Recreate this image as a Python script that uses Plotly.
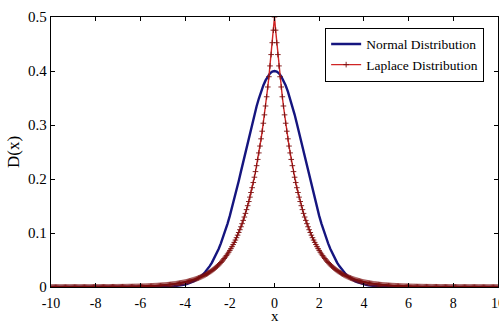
import numpy as np
import plotly.graph_objects as go

# ---- data ----
# Laplace curve, sampled every 0.05 from x=-10 to x=10
laplace_left = [  # x = -10.00 ... -0.05
    0, 0, 0, 0, 0, 0, 0, 0, 0, 0,
    0, 0, 0, 0, 0, 0, 0.0001, 0.0001, 0.0001, 0.0001,
    0.0001, 0.0001, 0.0001, 0.0001, 0.0001, 0.0001, 0.0001, 0.0001, 0.0001, 0.0001,
    0.0001, 0.0001, 0.0001, 0.0001, 0.0001, 0.0001, 0.0001, 0.0001, 0.0002, 0.0002,
    0.0002, 0.0002, 0.0002, 0.0002, 0.0002, 0.0002, 0.0002, 0.0002, 0.0003, 0.0003,
    0.0003, 0.0003, 0.0003, 0.0003, 0.0003, 0.0004, 0.0004, 0.0004, 0.0004, 0.0004,
    0.0005, 0.0005, 0.0005, 0.0005, 0.0006, 0.0006, 0.0006, 0.0006, 0.0007, 0.0007,
    0.0008, 0.0008, 0.0008, 0.0009, 0.0009, 0.0010, 0.0010, 0.0011, 0.0011, 0.0012,
    0.0012, 0.0013, 0.0014, 0.0014, 0.0015, 0.0016, 0.0017, 0.0018, 0.0018, 0.0019,
    0.0020, 0.0021, 0.0023, 0.0024, 0.0025, 0.0026, 0.0028, 0.0029, 0.0030, 0.0032,
    0.0034, 0.0035, 0.0037, 0.0039, 0.0041, 0.0043, 0.0045, 0.0048, 0.0050, 0.0053,
    0.0056, 0.0058, 0.0061, 0.0065, 0.0068, 0.0071, 0.0075, 0.0079, 0.0083, 0.0087,
    0.0092, 0.0096, 0.0101, 0.0106, 0.0112, 0.0118, 0.0124, 0.0130, 0.0137, 0.0144,
    0.0151, 0.0159, 0.0167, 0.0175, 0.0184, 0.0194, 0.0204, 0.0214, 0.0225, 0.0237,
    0.0249, 0.0262, 0.0275, 0.0289, 0.0304, 0.0320, 0.0336, 0.0353, 0.0371, 0.0390,
    0.0410, 0.0431, 0.0454, 0.0477, 0.0501, 0.0527, 0.0554, 0.0582, 0.0612, 0.0644,
    0.0677, 0.0711, 0.0748, 0.0786, 0.0826, 0.0869, 0.0913, 0.0960, 0.1009, 0.1061,
    0.1116, 0.1173, 0.1233, 0.1296, 0.1363, 0.1433, 0.1506, 0.1583, 0.1664, 0.1750,
    0.1839, 0.1934, 0.2033, 0.2137, 0.2247, 0.2362, 0.2483, 0.2610, 0.2744, 0.2885,
    0.3033, 0.3188, 0.3352, 0.3523, 0.3704, 0.3894, 0.4094, 0.4304, 0.4524, 0.4756,
]
laplace_right = [  # x = 0.00 ... 10.00
    0.5000, 0.4756, 0.4524, 0.4304, 0.4094, 0.3894, 0.3704, 0.3523, 0.3352, 0.3188,
    0.3033, 0.2885, 0.2744, 0.2610, 0.2483, 0.2362, 0.2247, 0.2137, 0.2033, 0.1934,
    0.1839, 0.1750, 0.1664, 0.1583, 0.1506, 0.1433, 0.1363, 0.1296, 0.1233, 0.1173,
    0.1116, 0.1061, 0.1009, 0.0960, 0.0913, 0.0869, 0.0826, 0.0786, 0.0748, 0.0711,
    0.0677, 0.0644, 0.0612, 0.0582, 0.0554, 0.0527, 0.0501, 0.0477, 0.0454, 0.0431,
    0.0410, 0.0390, 0.0371, 0.0353, 0.0336, 0.0320, 0.0304, 0.0289, 0.0275, 0.0262,
    0.0249, 0.0237, 0.0225, 0.0214, 0.0204, 0.0194, 0.0184, 0.0175, 0.0167, 0.0159,
    0.0151, 0.0144, 0.0137, 0.0130, 0.0124, 0.0118, 0.0112, 0.0106, 0.0101, 0.0096,
    0.0092, 0.0087, 0.0083, 0.0079, 0.0075, 0.0071, 0.0068, 0.0065, 0.0061, 0.0058,
    0.0056, 0.0053, 0.0050, 0.0048, 0.0045, 0.0043, 0.0041, 0.0039, 0.0037, 0.0035,
    0.0034, 0.0032, 0.0030, 0.0029, 0.0028, 0.0026, 0.0025, 0.0024, 0.0023, 0.0021,
    0.0020, 0.0019, 0.0018, 0.0018, 0.0017, 0.0016, 0.0015, 0.0014, 0.0014, 0.0013,
    0.0012, 0.0012, 0.0011, 0.0011, 0.0010, 0.0010, 0.0009, 0.0009, 0.0008, 0.0008,
    0.0008, 0.0007, 0.0007, 0.0006, 0.0006, 0.0006, 0.0006, 0.0005, 0.0005, 0.0005,
    0.0005, 0.0004, 0.0004, 0.0004, 0.0004, 0.0004, 0.0003, 0.0003, 0.0003, 0.0003,
    0.0003, 0.0003, 0.0003, 0.0002, 0.0002, 0.0002, 0.0002, 0.0002, 0.0002, 0.0002,
    0.0002, 0.0002, 0.0002, 0.0001, 0.0001, 0.0001, 0.0001, 0.0001, 0.0001, 0.0001,
    0.0001, 0.0001, 0.0001, 0.0001, 0.0001, 0.0001, 0.0001, 0.0001, 0.0001, 0.0001,
    0.0001, 0.0001, 0.0001, 0.0001, 0.0001, 0, 0, 0, 0, 0,
    0, 0, 0, 0, 0, 0, 0, 0, 0, 0,
    0,
]

# Normal curve, sampled every 0.1 from x=-10 to x=10
normal_left = [  # x = -10.0 ... -0.1
    0, 0, 0, 0, 0, 0, 0, 0, 0, 0,
    0, 0, 0, 0, 0, 0, 0, 0, 0, 0,
    0, 0, 0, 0, 0, 0, 0, 0, 0, 0,
    0, 0, 0, 0, 0, 0, 0, 0, 0, 0,
    0,
    0, 0, 0, 0.0001, 0.0001, 0.0001, 0.0002, 0.0002, 0.0003, 0.0004,
    0.0005, 0.0007, 0.0009, 0.0011, 0.0014, 0.0018, 0.0024, 0.0030, 0.0038, 0.0047,
    0.0058, 0.0073, 0.0089, 0.0109, 0.0133, 0.0161, 0.0194, 0.0232, 0.0277, 0.0328,
    0.0387, 0.0453, 0.0528, 0.0612, 0.0705, 0.0808, 0.0920, 0.1043, 0.1175, 0.1317,
    0.1467, 0.1626, 0.1792, 0.1964, 0.2141, 0.2321, 0.2502, 0.2681, 0.2858, 0.3029,
    0.3193, 0.3348, 0.3491, 0.3619, 0.3732, 0.3826, 0.3901, 0.3956, 0.3989,
]
normal_right = [  # x = 0.0 ... 10.0
    0.4000, 0.3989, 0.3956, 0.3901, 0.3826, 0.3732, 0.3619, 0.3491, 0.3348, 0.3193,
    0.3029, 0.2858, 0.2681, 0.2502, 0.2321, 0.2141, 0.1964, 0.1792, 0.1626, 0.1467,
    0.1317, 0.1175, 0.1043, 0.0920, 0.0808, 0.0705, 0.0612, 0.0528, 0.0453, 0.0387,
    0.0328, 0.0277, 0.0232, 0.0194, 0.0161, 0.0133, 0.0109, 0.0089, 0.0073, 0.0058,
    0.0047, 0.0038, 0.0030, 0.0024, 0.0018, 0.0014, 0.0011, 0.0009, 0.0007, 0.0005,
    0.0004, 0.0003, 0.0002, 0.0002, 0.0001, 0.0001, 0.0001, 0, 0, 0,
    0, 0, 0, 0, 0, 0, 0, 0, 0, 0,
    0, 0, 0, 0, 0, 0, 0, 0, 0, 0,
    0, 0, 0, 0, 0, 0, 0, 0, 0, 0,
    0, 0, 0, 0, 0, 0, 0, 0, 0, 0,
    0,
]

x_tick_vals = [-10, -8, -6, -4, -2, 0, 2, 4, 6, 8, 10]
y_tick_vals = [0, 0.1, 0.2, 0.3, 0.4, 0.5]
y_tick_text = ["0", "0.1", "0.2", "0.3", "0.4", "0.5"]

laplace_y = laplace_left + laplace_right
normal_y = normal_left + normal_right
laplace_x = np.linspace(-10, 10, len(laplace_y))
normal_x = np.linspace(-10, 10, len(normal_y))

FONT = "Liberation Serif, Times New Roman, serif"

fig = go.Figure()
fig.add_trace(go.Scatter(
    x=normal_x, y=normal_y, mode="lines", name="Normal Distribution",
    line=dict(color="#15157f", width=2.4),
))
fig.add_trace(go.Scatter(
    x=laplace_x, y=laplace_y, mode="lines+markers", name="Laplace Distribution",
    line=dict(color="#d02424", width=1.4),
    marker=dict(symbol="cross-thin", size=4, line=dict(color="#7a1010", width=0.9)),
))

axis_common = dict(
    showline=True, linecolor="black", linewidth=1.3, mirror="ticks",
    ticks="inside", ticklen=4, tickcolor="black", tickwidth=1,
    showgrid=False, zeroline=False,
    ticklabeloverflow="allow",
)

fig.update_xaxes(
    range=[-10, 10], tickmode="array", tickvals=x_tick_vals,
    ticktext=[str(v) for v in x_tick_vals],
    ticklabelstandoff=3,
    tickfont=dict(family=FONT, size=14, color="black"),
    automargin=False,
    **axis_common,
)
fig.update_yaxes(
    range=[0, 0.5], tickmode="array", tickvals=y_tick_vals, ticktext=y_tick_text,
    tickfont=dict(family=FONT, size=15, color="black"),
    title=dict(text="D(x)", font=dict(family=FONT, size=17, color="black"), standoff=4),
    **axis_common,
)

# x-axis title placed as an annotation at the bottom edge, below the tick labels
fig.add_annotation(
    text="x", xref="paper", yref="paper", x=0.5, y=-0.146,
    xanchor="center", yanchor="bottom", showarrow=False,
    font=dict(family=FONT, size=15, color="black"),
)

fig.update_layout(
    width=499, height=326,
    margin=dict(l=51, r=1, t=17, b=39),
    plot_bgcolor="white", paper_bgcolor="white",
    showlegend=True,
    legend=dict(
        x=0.969, y=0.96, xanchor="right", yanchor="top",
        bgcolor="white", bordercolor="black", borderwidth=1,
        font=dict(family=FONT, size=13.5, color="black"),
        tracegroupgap=0, itemwidth=30,
    ),
)

fig.write_html("out.html")
